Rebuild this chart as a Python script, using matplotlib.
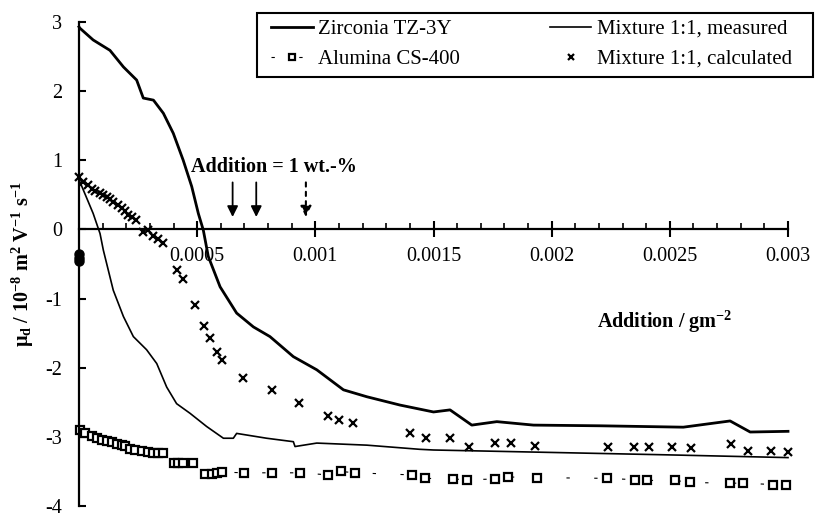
import numpy as np
import matplotlib
matplotlib.use('Agg')
import matplotlib.pyplot as plt
from matplotlib.ticker import MultipleLocator
from matplotlib.patches import Rectangle

plt.rcParams['font.family'] = ['Liberation Serif', 'DejaVu Serif']
plt.rcParams['mathtext.fontset'] = 'custom'
plt.rcParams['mathtext.rm'] = 'Liberation Serif:bold'
plt.rcParams['mathtext.it'] = 'Liberation Serif:bold'
plt.rcParams['mathtext.bf'] = 'Liberation Serif:bold'

# Zirconia TZ-3Y, measured curve
zr_x = [0.0, 0.000004, 0.00006, 0.000131, 0.000188, 0.000244, 0.000272, 0.000315, 0.000357,
        0.000399, 0.000441, 0.000477, 0.000505, 0.000526, 0.000547, 0.000597, 0.000667,
        0.000738, 0.000808, 0.000907, 0.001006, 0.001119, 0.001218, 0.001358, 0.0015,
        0.00157, 0.001662, 0.001768, 0.001923, 0.002205, 0.002557, 0.002755, 0.00284, 0.003]
zr_y = [2.93, 2.91, 2.74, 2.59, 2.35, 2.16, 1.90, 1.87, 1.68,
        1.39, 1.00, 0.62, 0.23, -0.01, -0.39, -0.83, -1.21,
        -1.41, -1.55, -1.84, -2.03, -2.32, -2.42, -2.54, -2.64,
        -2.61, -2.83, -2.78, -2.83, -2.84, -2.86, -2.77, -2.93, -2.92]

# Alumina CS-400
al_x = [0.000004, 0.000025, 0.000054, 0.000075, 0.000096, 0.000117, 0.000138, 0.00016, 0.00018,
        0.000195, 0.000216, 0.000237, 0.000265, 0.000293, 0.000314, 0.000335, 0.000357,
        0.0004, 0.00042, 0.00044, 0.000484, 0.000534, 0.000562, 0.000583, 0.000607,
        0.0007, 0.000815, 0.000935, 0.001055, 0.001107, 0.001168, 0.001408, 0.001464,
        0.001584, 0.001641, 0.00176, 0.001817, 0.001937, 0.002233, 0.002353, 0.002402,
        0.002522, 0.002586, 0.002755, 0.002811, 0.002938, 0.002992]
al_y = [-2.90, -2.94, -2.99, -3.02, -3.05, -3.06, -3.08, -3.11, -3.12,
        -3.13, -3.17, -3.19, -3.21, -3.22, -3.23, -3.24, -3.24,
        -3.38, -3.38, -3.38, -3.38, -3.53, -3.53, -3.52, -3.51,
        -3.52, -3.52, -3.52, -3.55, -3.50, -3.52, -3.55, -3.60,
        -3.61, -3.62, -3.61, -3.58, -3.59, -3.60, -3.62, -3.63,
        -3.63, -3.66, -3.67, -3.67, -3.69, -3.70]

# Mixture 1:1, measured
mm_x = [0.0, 0.00006, 0.000089, 0.000103, 0.000145, 0.000188, 0.00023, 0.000286, 0.000329,
        0.000371, 0.000413, 0.00047, 0.00054, 0.000611, 0.000653, 0.000667, 0.000794,
        0.000907, 0.000914, 0.001006, 0.001218, 0.001441, 0.0015, 0.001923, 0.002486, 0.003]
mm_y = [0.72, 0.23, -0.06, -0.30, -0.88, -1.26, -1.55, -1.74, -1.94,
        -2.28, -2.52, -2.66, -2.85, -3.02, -3.02, -2.95, -3.02,
        -3.07, -3.14, -3.09, -3.12, -3.18, -3.19, -3.22, -3.26, -3.30]

# Mixture 1:1, calculated
mc_x = [0.0, 0.000018, 0.00004, 0.000054, 0.000068, 0.000089, 0.000103, 0.000117, 0.000131,
        0.000145, 0.000166, 0.00018, 0.000195, 0.000209, 0.000223, 0.000241, 0.000272,
        0.000293, 0.000314, 0.000335, 0.000356, 0.000413, 0.00044, 0.00049, 0.000529,
        0.000554, 0.000582, 0.000607, 0.000696, 0.000815, 0.00093, 0.001055, 0.0011,
        0.00116, 0.0014, 0.00147, 0.00157, 0.00165, 0.00176, 0.00183, 0.00193, 0.00224,
        0.00235, 0.00241, 0.00251, 0.00259, 0.00276, 0.00283, 0.00293, 0.003]
mc_y = [0.76, 0.69, 0.64, 0.59, 0.56, 0.53, 0.50, 0.47, 0.44,
        0.40, 0.35, 0.31, 0.26, 0.21, 0.18, 0.14, -0.03,
        -0.01, -0.10, -0.14, -0.20, -0.59, -0.72, -1.09, -1.40,
        -1.57, -1.77, -1.89, -2.15, -2.32, -2.51, -2.70, -2.75,
        -2.80, -2.95, -3.02, -3.02, -3.15, -3.09, -3.09, -3.13, -3.15,
        -3.15, -3.15, -3.15, -3.16, -3.10, -3.20, -3.20, -3.22]

# dense start point on the axis
start_x = [0.0, 0.0, 0.0]
start_y = [-0.36, -0.41, -0.46]

# arrows marking 1 wt.-% addition
arrow_x = [0.00065, 0.00075]
arrow_dashed_x = 0.00096

xticks = [0.0005, 0.001, 0.0015, 0.002, 0.0025, 0.003]
xtick_labels = ['0.0005', '0.001', '0.0015', '0.002', '0.0025', '0.003']
yticks = [3, 2, 1, 0, -1, -2, -3, -4]
ytick_labels = ['3', '2', '1', '0', '-1', '-2', '-3', '-4']

fig = plt.figure(figsize=(8.16, 5.13), dpi=100)
ax = fig.add_axes([79 / 816, 1 - 506 / 513, 709 / 816, 484 / 513])

ax.plot(zr_x, zr_y, color='black', lw=2.0, label='Zirconia TZ-3Y', clip_on=False)
ax.plot(al_x, al_y, color='black', lw=0.8, ls=(0, (3, 22)), marker='s', ms=5.5,
        mfc='white', mec='black', mew=1.6, label='Alumina CS-400', clip_on=False)
ax.plot(mm_x, mm_y, color='black', lw=1.2, label='Mixture 1:1, measured', clip_on=False)
ax.plot(mc_x, mc_y, ls='none', marker='x', ms=6, mec='black', mew=1.6,
        label='Mixture 1:1, calculated', clip_on=False)
ax.plot(start_x, start_y, ls='none', marker='o', ms=6.5, color='black', clip_on=False)

for xa in arrow_x:
    ax.annotate('', xy=(xa, 0.18), xytext=(xa, 0.68),
                arrowprops=dict(arrowstyle='-|>', lw=1.3, color='black',
                                mutation_scale=16, shrinkA=0, shrinkB=0))
ax.annotate('', xy=(arrow_dashed_x, 0.18), xytext=(arrow_dashed_x, 0.68),
            arrowprops=dict(arrowstyle='-|>', lw=1.5, color='black', ls=(0, (2, 2.5)),
                            mutation_scale=16, shrinkA=0, shrinkB=0))

ax.text(0.000823, 0.9, 'Addition = 1 wt.-%', fontsize=14.5, fontweight='bold',
        ha='center', va='center')
ax.text(0.00248, -1.34, 'Addition / gm$^{-2}$', fontsize=14.5, fontweight='bold',
        ha='center', va='center')

ax.set_xlim(0, 0.003)
ax.set_ylim(-4, 3)
ax.spines['top'].set_visible(False)
ax.spines['right'].set_visible(False)
ax.spines['bottom'].set_position(('data', 0))
ax.spines['bottom'].set_linewidth(1.6)
ax.spines['left'].set_linewidth(1.6)

ax.set_xticks(xticks)
ax.set_xticklabels(xtick_labels)
ax.xaxis.set_minor_locator(MultipleLocator(0.0001))
ax.set_yticks(yticks)
ax.set_yticklabels(ytick_labels)
ax.tick_params(axis='x', which='major', direction='inout', length=11, width=1.5,
               pad=7, labelsize=14.5)
ax.tick_params(axis='x', which='minor', direction='in', length=4, width=1.2)
ax.tick_params(axis='y', which='major', direction='in', length=5, width=1.5,
               pad=12, labelsize=14.5)

ax.set_ylabel('μ$_\\mathrm{d}$ / 10$^{-8}$ m$^{2}$ V$^{-1}$ s$^{-1}$',
              fontsize=14.5, fontweight='bold')
ax.yaxis.set_label_coords(-0.06, 0.5)

# legend without its own frame, box drawn separately
leg = ax.legend(ncol=2, loc='upper right', bbox_to_anchor=(798 / 816, 1 - 13 / 513),
                bbox_transform=fig.transFigure, fontsize=15, frameon=False,
                borderaxespad=0, handlelength=2.0, handletextpad=0.25, columnspacing=4.3,
                labelspacing=0.5, markerscale=0.7, borderpad=0.3)
fig.patches.append(Rectangle((257 / 816, 1 - 77 / 513), 556 / 816, 64 / 513,
                             transform=fig.transFigure, fill=False, lw=1.5,
                             edgecolor='black'))

fig.savefig('out.png', dpi=100)
